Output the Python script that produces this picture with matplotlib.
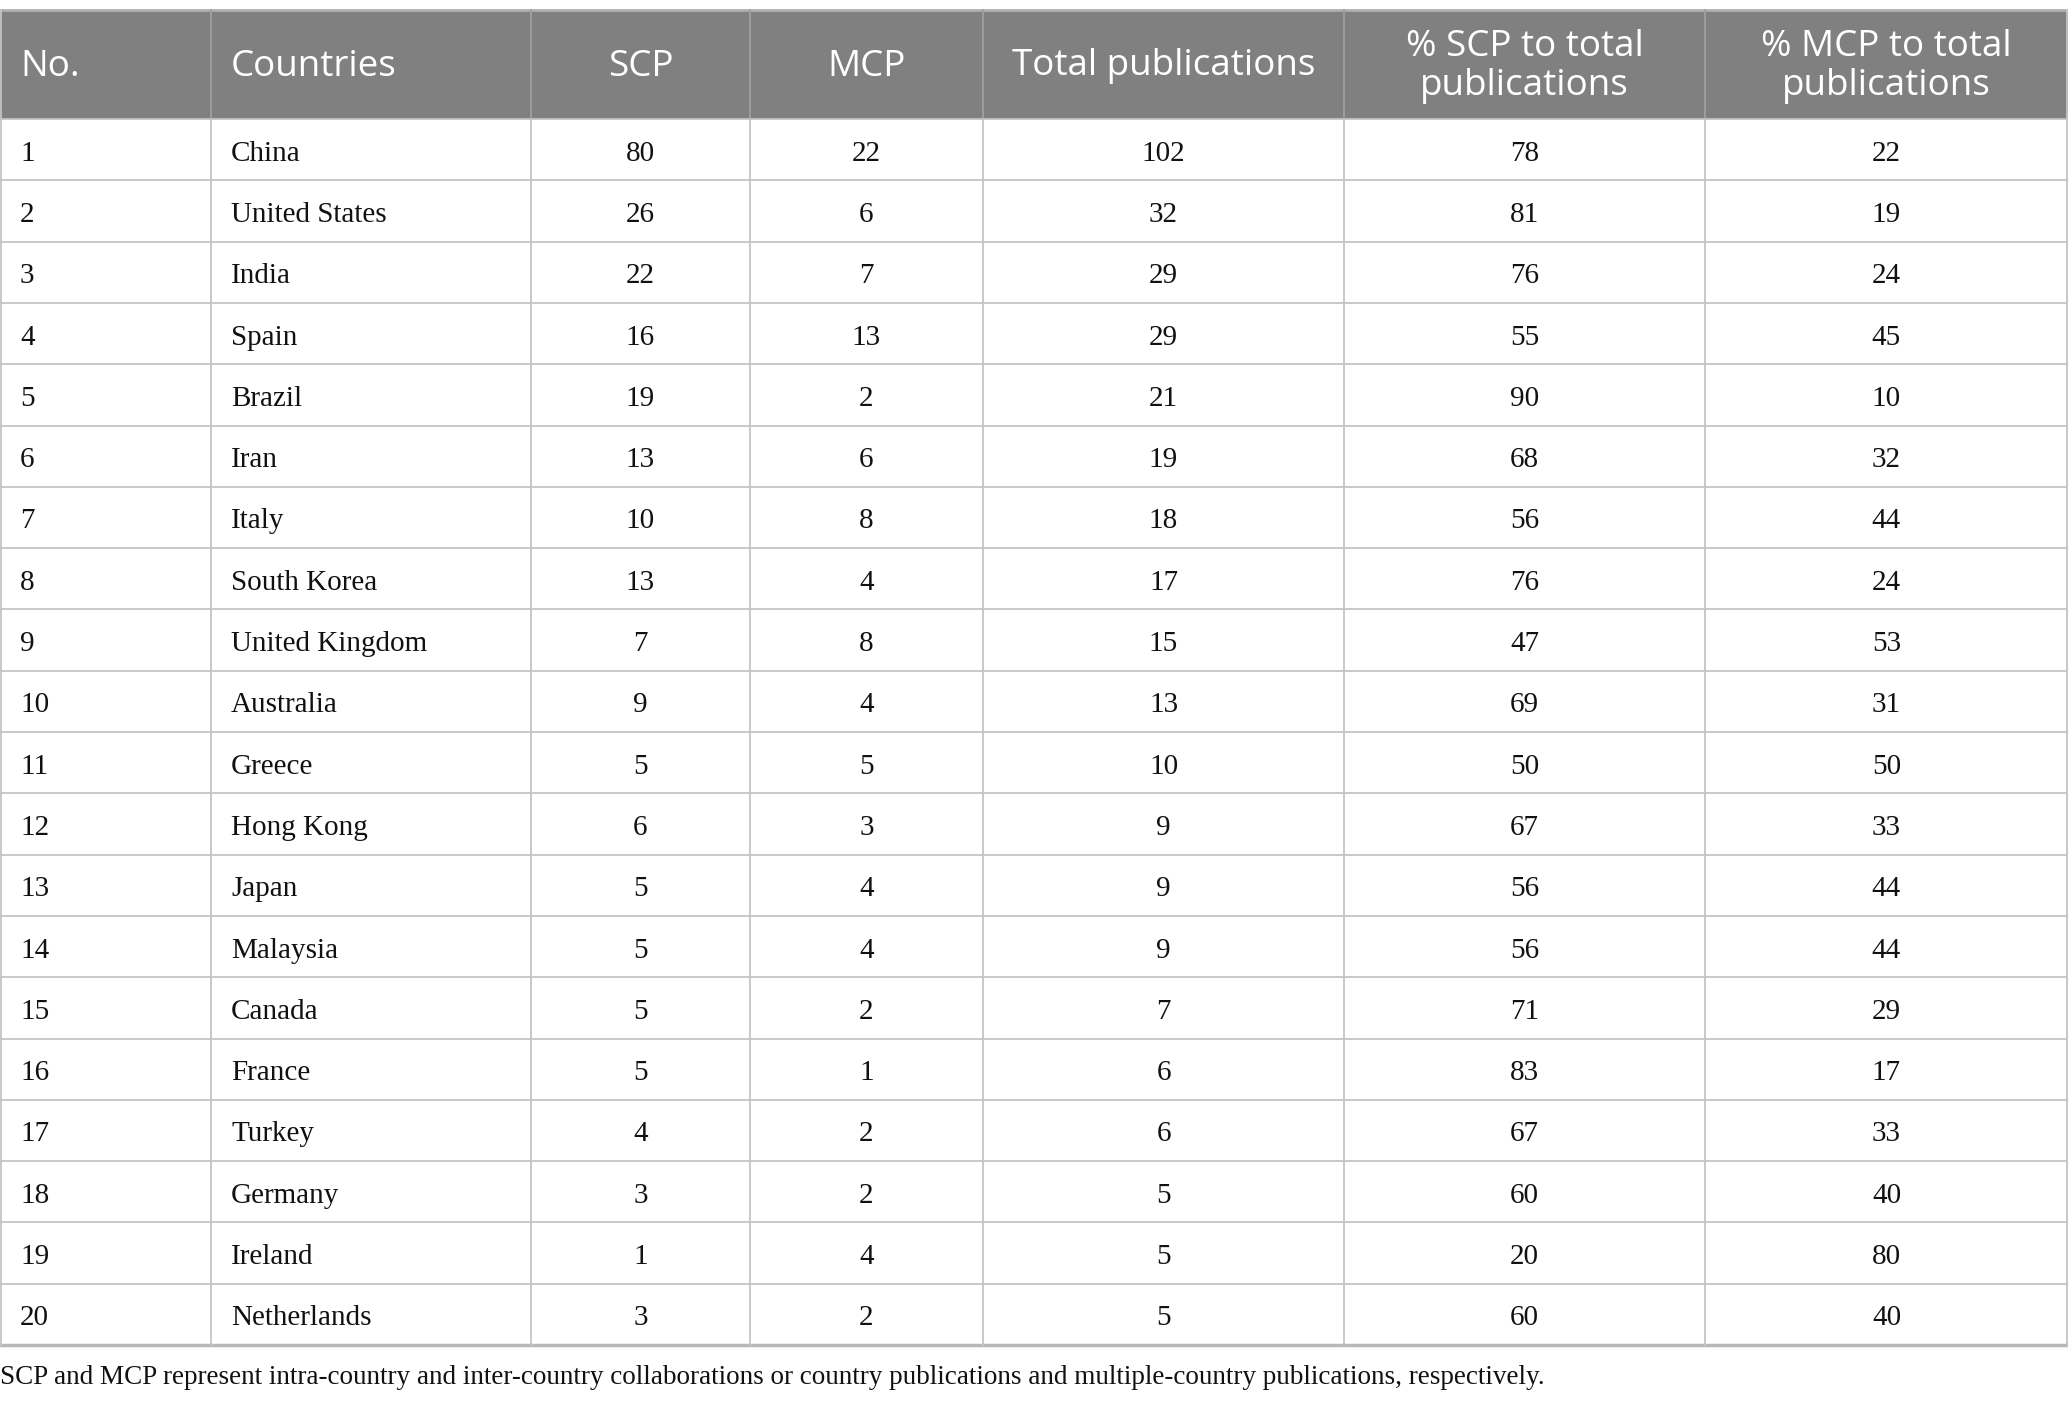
import matplotlib
matplotlib.use("Agg")
import matplotlib.pyplot as plt
from matplotlib.patches import Rectangle

headers = ["No.", "Countries", "SCP", "MCP", "Total publications",
           "% SCP to total\npublications", "% MCP to total\npublications"]
countries = ["China", "United States", "India", "Spain", "Brazil", "Iran", "Italy",
             "South Korea", "United Kingdom", "Australia", "Greece", "Hong Kong",
             "Japan", "Malaysia", "Canada", "France", "Turkey", "Germany",
             "Ireland", "Netherlands"]
scp = [80, 26, 22, 16, 19, 13, 10, 13, 7, 9, 5, 6, 5, 5, 5, 5, 4, 3, 1, 3]
mcp = [22, 6, 7, 13, 2, 6, 8, 4, 8, 4, 5, 3, 4, 4, 2, 1, 2, 2, 4, 2]
total = [102, 32, 29, 29, 21, 19, 18, 17, 15, 13, 10, 9, 9, 9, 7, 6, 6, 5, 5, 5]
pct_scp = [78, 81, 76, 55, 90, 68, 56, 76, 47, 69, 50, 67, 56, 56, 71, 83, 67, 60, 20, 60]
pct_mcp = [22, 19, 24, 45, 10, 32, 44, 24, 53, 31, 50, 33, 44, 44, 29, 17, 33, 40, 80, 40]
footnote = ("SCP and MCP represent intra-country and inter-country collaborations or "
            "country publications and multiple-country publications, respectively.")

W, H = 2068, 1402
fig = plt.figure(figsize=(W / 100, H / 100), dpi=100)
ax = fig.add_axes([0, 0, 1, 1])
ax.set_xlim(0, W)
ax.set_ylim(H, 0)
ax.axis("off")

col_edges = [0, 211, 531, 750, 983, 1344, 1705, 2068]
top, head_bot, row_h = 10, 119, 61.3
line_c = "#c4c4c4"
pad = 20

# header
ax.add_patch(Rectangle((0, top), W, head_bot - top, color="#808080", lw=0))
for j, h in enumerate(headers):
    x0, x1 = col_edges[j], col_edges[j + 1]
    if j < 2:
        x, ha = x0 + pad, "left"
    else:
        x, ha = (x0 + x1) / 2, "center"
    ax.text(x, (top + head_bot) / 2 + 2, h, ha=ha, va="center", color="white",
            fontsize=26.5, family="Open Sans", linespacing=1.12)

# body
rows = list(zip(range(1, 21), countries, scp, mcp, total, pct_scp, pct_mcp))
for i, row in enumerate(rows):
    yc = head_bot + row_h * (i + 0.5) + 4
    for j, v in enumerate(row):
        x0, x1 = col_edges[j], col_edges[j + 1]
        if j < 2:
            x, ha = x0 + pad, "left"
        else:
            x, ha = (x0 + x1) / 2, "center"
        ax.text(x, yc, str(v), ha=ha, va="center", color="#111111",
                fontsize=21, family="Liberation Serif")

bottom = head_bot + row_h * len(rows)
# grid lines
for i in range(1, len(rows)):
    y = head_bot + row_h * i
    ax.plot([0, W], [y, y], color=line_c, lw=1.3)
ax.plot([0, W], [head_bot, head_bot], color=line_c, lw=1.3)
ax.plot([0, W], [top, top], color="#b0b0b0", lw=2)
ax.plot([0, W], [bottom, bottom], color="#b8b8b8", lw=2.5)
for x in col_edges[1:-1]:
    ax.plot([x, x], [top, head_bot], color="#a0a0a0", lw=1.3)
    ax.plot([x, x], [head_bot, bottom], color=line_c, lw=1.3)
ax.plot([1, 1], [top, bottom], color=line_c, lw=1.3)
ax.plot([W - 1, W - 1], [top, bottom], color=line_c, lw=1.3)

ax.text(0, 1378, footnote, ha="left", va="center", color="#111111",
        fontsize=19.5, family="Liberation Serif")

fig.savefig("out.png", dpi=100)
